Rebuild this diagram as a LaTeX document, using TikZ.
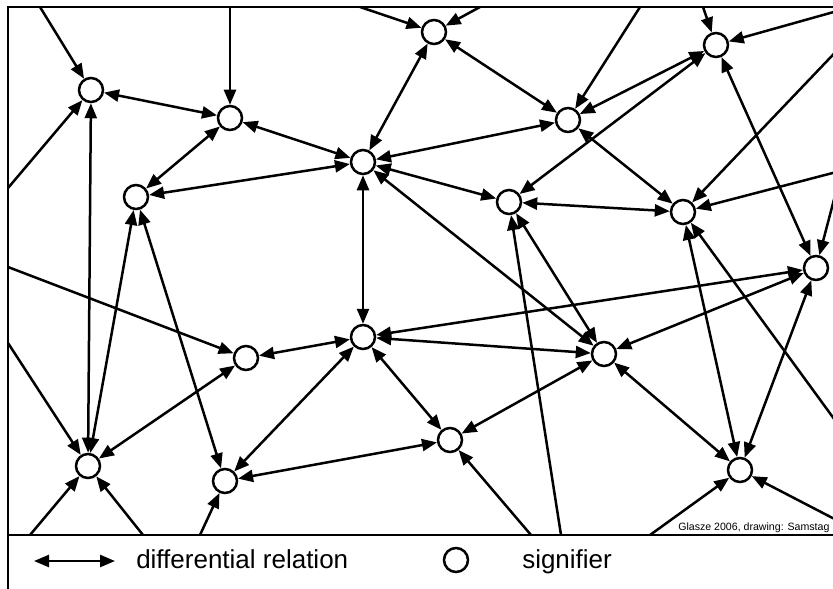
\documentclass[tikz,border=0pt]{standalone}
\usepackage{fontspec}
\setmainfont{Liberation Sans}
\usepackage{tikz}
\usetikzlibrary{arrows.meta,positioning,calc}

\tikzset{
  sig/.style={circle, draw, fill=white, minimum size=12pt, inner sep=0pt},
  frame/.style={line width=1.4pt},
}

\begin{document}
\begin{tikzpicture}[x=0.5pt, y=-0.5pt, line width=1.25pt, >={Triangle[length=7.5pt,width=6pt]}]
        \clip (0,0) rectangle (833,588);
        \fill[white] (0,0) rectangle (833,588);
        % frame
        \draw[frame] (860,7) -- (8,7) -- (8,600);
        \draw[frame] (8,535) -- (860,535);
        % signifiers
        \node[sig] (s1) at (91,90) {};
        \node[sig] (s2) at (230,118) {};
        \node[sig] (s3) at (363,162) {};
        \node[sig] (s4) at (136,197) {};
        \node[sig] (s5) at (434,32) {};
        \node[sig] (s6) at (568,120) {};
        \node[sig] (s7) at (716,45) {};
        \node[sig] (s8) at (509,202) {};
        \node[sig] (s9) at (683,212) {};
        \node[sig] (s10) at (816,268) {};
        \node[sig] (s11) at (246,358) {};
        \node[sig] (s12) at (363,337) {};
        \node[sig] (s13) at (604,354) {};
        \node[sig] (s14) at (88,466) {};
        \node[sig] (s15) at (225,481) {};
        \node[sig] (s16) at (450,440) {};
        \node[sig] (s17) at (740,470) {};
        % ends on the frame
        \coordinate (t1) at (40,7);   \coordinate (t2) at (230,7);  \coordinate (t3) at (360,7);
        \coordinate (t4) at (480,7);  \coordinate (t5) at (640,7);  \coordinate (t6) at (703,7);
        \coordinate (l1) at (8,188);  \coordinate (l2) at (8,267);  \coordinate (l3) at (8,343);
        \coordinate (b1) at (30,535); \coordinate (b2) at (143,535); \coordinate (b3) at (200,535);
        \coordinate (b4) at (531,535); \coordinate (b5) at (561,535); \coordinate (b6) at (650,535);
        \coordinate (r1) at (848,8);  \coordinate (r2) at (848,39);  \coordinate (r3) at (848,169);
        \coordinate (r4) at (848,146); \coordinate (r5) at (848,438); \coordinate (r6) at (848,526);
        % differential relations
        \draw[<->] (s1) -- (s2); \draw[<->] (s1) -- (s14);
        \draw[<->] (s2) -- (s3); \draw[<->] (s2) -- (s4);
        \draw[<->] (s3) -- (s4); \draw[<->] (s3) -- (s5);
        \draw[<->] (s3) -- (s6); \draw[<->] (s3) -- (s8);
        \draw[<->] (s3) -- (s12); \draw[<->] (s3) -- (s13);
        \draw[<->] (s4) -- (s14); \draw[<->] (s4) -- (s15);
        \draw[<->] (s5) -- (s6); \draw[<->] (s6) -- (s7);
        \draw[<->] (s6) -- (s9); \draw[<->] (s7) -- (s8);
        \draw[<->] (s7) -- (s10); \draw[<->] (s8) -- (s9);
        \draw[<->] (s8) -- (s13); \draw[<->] (s9) -- (s17);
        \draw[<->] (s10) -- (s12); \draw[<->] (s10) -- (s13);
        \draw[<->] (s10) -- (s17); \draw[<->] (s11) -- (s12);
        \draw[<->] (s11) -- (s14); \draw[<->] (s12) -- (s13);
        \draw[<->] (s12) -- (s15); \draw[<->] (s12) -- (s16);
        \draw[<->] (s13) -- (s16); \draw[<->] (s13) -- (s17);
        \draw[<->] (s15) -- (s16);
        % relations coming in from outside
        \draw[->] (t1) -- (s1); \draw[->] (t2) -- (s2);
        \draw[->] (t3) -- (s5); \draw[->] (t4) -- (s5);
        \draw[->] (t5) -- (s6); \draw[->] (t6) -- (s7);
        \draw[->] (l1) -- (s1); \draw[->] (l2) -- (s11); \draw[->] (l3) -- (s14);
        \draw[->] (b1) -- (s14); \draw[->] (b2) -- (s14); \draw[->] (b3) -- (s15);
        \draw[->] (b4) -- (s16); \draw[->] (b5) -- (s8); \draw[->] (b6) -- (s17);
        \draw[->] (r1) -- (s7); \draw[->] (r2) -- (s9); \draw[->] (r3) -- (s9);
        \draw[->] (r4) -- (s10); \draw[->] (r5) -- (s9); \draw[->] (r6) -- (s17);
        \node[anchor=base west, font=\fontsize{5.3pt}{6pt}\selectfont, inner sep=0pt] (credit) at (677,530) {Glasze 2006, drawing: Samstag};
        % legend
        \coordinate (k1) at (34,561);
        \coordinate (k2) at (115,561);
        \draw[<->] (k1) -- (k2);
        \node[anchor=base west, font=\fontsize{13pt}{15pt}\selectfont, inner sep=0pt] (relkey) at (135,568) {differential relation};
        \node[sig] (sigkey) at (456,560) {};
        \node[anchor=base west, font=\fontsize{13pt}{15pt}\selectfont, inner sep=0pt] (sigtext) at (521,568) {signifier};
    \end{tikzpicture}
\end{document}
